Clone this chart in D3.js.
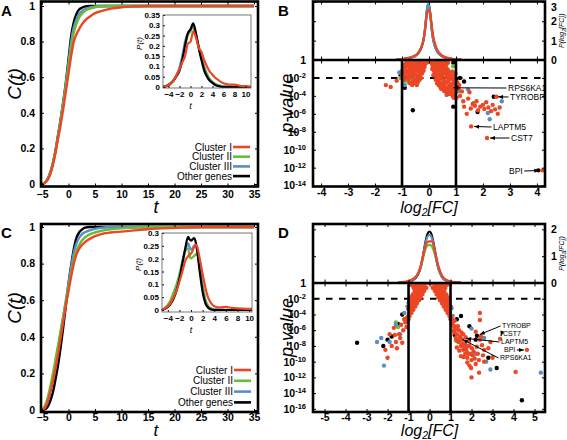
<!DOCTYPE html>
<html><head><meta charset="utf-8">
<script src="https://cdn.jsdelivr.net/npm/d3@7"></script>
<style>body{margin:0;background:#fff}svg{display:block}text{font-family:"Liberation Sans",Arial,Helvetica,sans-serif}</style>
</head><body><svg id="c" width="567" height="440"></svg>
<script>
// ---------------- DATA ----------------
const seriesNames = ["Cluster I","Cluster II","Cluster III","Other genes"];
const cdfT = [-5,-4.5,-4,-3.5,-3,-2.5,-2,-1.5,-1,-0.5,0,0.5,1,1.5,2,2.5,3,4,5,6,8,10,12,15,20,25,30,35];
// Panel A cumulative C(t)
const cdfA_c1 = [0,0.005,0.02,0.05,0.1,0.17,0.25,0.33,0.42,0.52,0.62,0.72,0.8,0.84,0.87,0.895,0.915,0.94,0.96,0.97,0.985,0.993,0.997,1,1,1,1,1];
const cdfA_c2 = [0,0.006,0.024,0.058,0.108,0.175,0.26,0.35,0.45,0.55,0.66,0.77,0.85,0.9,0.935,0.955,0.97,0.985,0.993,0.997,1,1,1,1,1,1,1,1];
const cdfA_c3 = [0,0.006,0.024,0.059,0.11,0.178,0.265,0.355,0.455,0.56,0.68,0.8,0.88,0.925,0.955,0.97,0.98,0.992,0.997,1,1,1,1,1,1,1,1,1];
const cdfA_oth = [0,0.006,0.025,0.06,0.11,0.18,0.27,0.36,0.46,0.57,0.7,0.83,0.91,0.955,0.98,0.99,0.996,1,1,1,1,1,1,1,1,1,1,1];
// Panel C cumulative C(t)
const cdfC_c1 = [0,0.01,0.04,0.09,0.15,0.22,0.3,0.39,0.48,0.57,0.65,0.73,0.8,0.85,0.88,0.9,0.915,0.935,0.95,0.96,0.97,0.975,0.98,0.988,0.995,1,1,1];
const cdfC_c2 = [0,0.02,0.06,0.12,0.19,0.27,0.35,0.43,0.51,0.59,0.67,0.75,0.82,0.87,0.9,0.925,0.94,0.96,0.97,0.978,0.988,0.993,0.996,1,1,1,1,1];
const cdfC_c3 = [0,0.01,0.04,0.09,0.16,0.24,0.33,0.42,0.51,0.6,0.69,0.78,0.86,0.91,0.94,0.96,0.97,0.982,0.99,0.995,1,1,1,1,1,1,1,1];
const cdfC_oth = [0,0.003,0.015,0.045,0.09,0.16,0.24,0.34,0.45,0.57,0.69,0.79,0.88,0.94,0.97,0.985,0.995,1,1,1,1,1,1,1,1,1,1,1];
// Inset A density P(t)
const pdfT_A = [-5,-4.5,-4,-3.5,-3,-2.5,-2,-1.5,-1,-0.5,0,0.5,1,1.5,2,2.5,3,3.5,4,4.5,5,5.5,6,7,8,9,10,11];
const pdfA_c1 = [0,0.004,0.01,0.02,0.035,0.06,0.085,0.12,0.15,0.21,0.22,0.27,0.24,0.19,0.17,0.13,0.1,0.075,0.06,0.045,0.035,0.025,0.018,0.012,0.012,0.006,0.004,0.002];
const pdfA_c2 = [0,0.004,0.01,0.02,0.035,0.06,0.09,0.14,0.2,0.25,0.27,0.29,0.25,0.2,0.15,0.1,0.065,0.04,0.025,0.015,0.01,0.006,0.004,0.002,0.001,0,0,0];
const pdfA_c3 = [0,0.004,0.01,0.02,0.035,0.06,0.095,0.15,0.22,0.26,0.28,0.3,0.25,0.19,0.14,0.09,0.055,0.035,0.02,0.012,0.007,0.004,0.002,0.001,0,0,0,0];
const pdfA_oth = [0,0.004,0.01,0.02,0.035,0.055,0.08,0.13,0.2,0.26,0.28,0.31,0.26,0.19,0.13,0.08,0.05,0.03,0.02,0.01,0.005,0.002,0,0,0,0,0,0];
// Inset C density P(t)
const pdfT_C = [-5,-4.5,-4,-3.5,-3,-2.5,-2,-1.5,-1,-0.5,-0.25,0,0.25,0.5,0.75,1,1.5,2,2.5,3,3.5,4,5,6,7,8,9,10,10.5];
const pdfC_c1 = [0,0.006,0.014,0.028,0.05,0.075,0.11,0.15,0.19,0.21,0.215,0.22,0.23,0.245,0.255,0.25,0.2,0.14,0.085,0.045,0.025,0.015,0.01,0.012,0.008,0.006,0.005,0.004,0.004];
const pdfC_c2 = [0,0.008,0.02,0.04,0.07,0.1,0.14,0.19,0.23,0.24,0.21,0.2,0.205,0.21,0.215,0.22,0.17,0.1,0.04,0.015,0.006,0.003,0.002,0.001,0,0,0,0,0];
const pdfC_c3 = [0,0.005,0.012,0.027,0.05,0.08,0.125,0.18,0.23,0.26,0.245,0.235,0.24,0.25,0.255,0.24,0.16,0.08,0.03,0.01,0.004,0.002,0.001,0,0,0,0,0,0];
const pdfC_oth = [0,0.005,0.012,0.025,0.045,0.075,0.12,0.18,0.24,0.285,0.275,0.27,0.275,0.28,0.27,0.24,0.15,0.07,0.025,0.008,0.002,0,0,0,0,0,0,0,0];
// Panel B: density of log2 FC
const densX_B = [-1.2,-1,-0.8,-0.6,-0.5,-0.4,-0.3,-0.2,-0.15,-0.1,-0.05,0,0.05,0.1,0.15,0.2,0.3,0.4,0.5,0.6,0.8,1,1.2];
const densB_oth = [0.02,0.04,0.08,0.15,0.22,0.34,0.58,1.05,1.55,2.25,2.8,2.85,2.35,1.65,1.12,0.8,0.45,0.28,0.18,0.12,0.06,0.03,0.01];
const densB_c2 = [0.02,0.04,0.08,0.15,0.22,0.35,0.6,1.08,1.55,2.2,2.7,2.7,2.25,1.6,1.1,0.8,0.46,0.29,0.19,0.13,0.06,0.03,0.01];
const densB_c3 = [0.02,0.04,0.08,0.15,0.22,0.35,0.6,1.1,1.6,2.3,2.88,2.8,2.3,1.6,1.1,0.8,0.45,0.28,0.18,0.12,0.06,0.03,0.01];
const densB_c1 = [0.03,0.05,0.1,0.18,0.25,0.38,0.62,1.05,1.5,2.1,2.5,2.6,2.35,1.8,1.3,0.95,0.55,0.34,0.22,0.15,0.08,0.04,0.02];
// Panel D: density of log2 FC
const densX_D = [-1.5,-1.2,-1,-0.8,-0.6,-0.5,-0.4,-0.3,-0.2,-0.1,0,0.1,0.2,0.3,0.4,0.5,0.6,0.8,1,1.2,1.5];
const densD_oth = [0.01,0.02,0.04,0.1,0.25,0.4,0.65,1.05,1.5,1.82,1.92,1.8,1.45,1.0,0.62,0.38,0.22,0.08,0.04,0.02,0.01];
const densD_c3 = [0.01,0.02,0.05,0.11,0.26,0.41,0.66,1.05,1.45,1.72,1.8,1.7,1.4,0.98,0.62,0.38,0.22,0.09,0.04,0.02,0.01];
const densD_c2 = [0.01,0.03,0.06,0.13,0.28,0.42,0.64,0.95,1.25,1.4,1.42,1.38,1.2,0.92,0.62,0.4,0.24,0.1,0.05,0.02,0.01];
const densD_c1 = [0.02,0.04,0.07,0.14,0.3,0.45,0.7,1.05,1.38,1.52,1.55,1.55,1.4,1.05,0.7,0.45,0.27,0.12,0.06,0.03,0.015];
// Panel B volcano points [log2FC, log10 p]
const volB_c1 = [[-0.85,-0.3],[-0.78,-0.12],[-0.72,-0.45],[-0.65,-0.2],[-0.6,-0.6],[-0.55,-0.1],[-0.5,-0.4],[-0.45,-0.15],[-0.4,-0.55],[-0.35,-0.25],[-0.3,-0.05],[-0.25,-0.4],[-0.2,-0.15],[-0.15,-0.5],[-0.1,-0.05],[-0.05,-0.25],[0,0],[0.05,-0.1],[0.1,-0.3],[0.15,-0.05],[0.2,-0.35],[0.25,-0.15],[0.3,-0.5],[0.35,-0.2],[0.4,-0.4],[0.45,-0.1],[0.5,-0.55],[0.55,-0.3],[0.6,-0.15],[0.65,-0.45],[-0.68,-0.8],
[-0.8,-0.55],[-0.7,-0.25],[-0.62,-0.85],[-0.52,-0.7],[-0.42,-0.85],[-0.32,-0.75],[-0.27,-0.25],[-0.12,-0.3],[0.02,-0.15],[0.12,-0.5],[0.22,-0.6],[0.32,-0.8],[0.42,-0.65],[0.48,-0.35],[0.58,-0.7],[0.62,-0.9],[0.7,-0.3],[-0.9,-0.55],[0.38,-0.05],[-0.58,-0.4],
[-0.88,-0.9],[-0.82,-1.3],[-0.78,-0.7],[-0.72,-1.6],[-0.7,-1.0],[-0.65,-1.9],[-0.62,-1.3],[-0.58,-0.85],[-0.55,-2.2],[-0.5,-1.6],[-0.47,-1.0],[-0.43,-2.0],[-0.4,-1.3],[-0.36,-0.8],[-0.33,-1.6],[-0.28,-1.0],[-0.24,-0.7],[-0.2,-1.2],[-0.17,-0.8],[-0.5,-2.6],[-0.8,-2.0],[-0.6,-2.4],[-0.42,-2.5],[-0.85,-1.6],[-0.3,-2.0],
[-0.95,-1.3],[-0.9,-1.7],[-0.75,-2.2],[-0.7,-2.6],[-0.66,-1.5],[-0.57,-1.7],[-0.53,-1.2],[-0.46,-2.3],[-0.38,-1.8],[-0.35,-2.2],[-0.3,-1.2],[-0.26,-1.5],[-0.22,-1.0],[-0.62,-2.8],[-0.45,-2.8],[-0.76,-1.2],[-0.92,-2.2],
[0.15,-0.75],[0.18,-1.1],[0.22,-1.5],[0.25,-0.8],[0.28,-1.9],[0.3,-1.2],[0.33,-2.3],[0.36,-0.9],[0.38,-1.6],[0.42,-2.1],[0.44,-1.2],[0.47,-2.6],[0.5,-1.7],[0.52,-0.9],[0.55,-2.2],[0.57,-3.0],[0.6,-1.4],[0.62,-2.6],[0.65,-1.9],[0.67,-3.3],[0.7,-1.1],[0.72,-2.3],[0.74,-2.9],[0.77,-1.6],[0.8,-3.5],[0.82,-2.1],[0.84,-2.7],[0.87,-1.3],[0.9,-3.1],[0.92,-2.4],[0.95,-1.8],[0.96,-3.7],[0.45,-3.2],[0.6,-3.5],[0.35,-2.8],[0.75,-3.8],[0.88,-4.0],[0.98,-2.9],[0.25,-2.2],[0.55,-1.1],
[0.12,-1.0],[0.2,-1.3],[0.16,-1.7],[0.27,-1.1],[0.3,-2.6],[0.34,-1.7],[0.4,-1.3],[0.4,-2.5],[0.46,-1.9],[0.5,-2.9],[0.52,-1.4],[0.58,-2.5],[0.63,-3.1],[0.66,-1.6],[0.68,-2.4],[0.72,-3.5],[0.73,-1.4],[0.78,-2.0],[0.8,-2.7],[0.83,-3.1],[0.86,-1.8],[0.9,-2.6],[0.93,-3.3],[0.95,-2.2],[0.98,-1.5],[0.98,-3.5],[0.55,-3.4],[0.68,-3.8],[0.82,-3.7],[0.92,-4.2],[0.62,-1.2],[0.42,-3.0],
[1.05,-2.5],[1.1,-3.2],[1.15,-4.0],[1.22,-3.5],[1.27,-4.6],[1.3,-5.2],[1.4,-6.0],[1.45,-4.3],[1.5,-3.6],[1.55,-5.4],[1.62,-4.9],[1.7,-5.1],[1.76,-4.6],[1.82,-5.6],[1.9,-5.2],[2.0,-5.0],[2.05,-5.45],[2.12,-4.7],[2.2,-5.3],[2.3,-5.7],[2.36,-5.0],[2.45,-5.5],[2.55,-6.0],[2.62,-5.3],[2.5,-4.1],[1.56,-7.4],[2.15,-8.7],[4.2,-12.3],[1.02,-4.2],[1.12,-2.8],[-1.6,-2.8],[-1.42,-3.0],[-1.2,-2.3],[-1.0,-1.6]];
const volB_c2 = [[-1.0,-1.2],[-1.05,-2.0],[-0.95,-2.7],[-0.75,-2.5],[-0.6,-2.0],[0.65,-0.9],[0.85,-1.3],[1.65,-4.8],[0.45,-1.4],[-0.8,-0.5],[0.9,-0.7],[-0.85,-2.3]];
const volB_c3 = [[-1.1,-1.4],[-0.95,-1.0],[-0.9,-2.8],[-0.6,-0.9],[-0.3,-0.5],[0.3,-1.7],[0.55,-2.5],[0.8,-3.3],[1.1,-3.5],[1.45,-3.3],[2.18,-5.9],[2.25,-6.6],[2.7,-4.6],[0.05,-0.15],[-0.45,-2.0],[0.65,-3.9],[-0.2,-0.05],[-0.75,-1.8],[0.4,-0.6]];
const volB_oth = [[-0.6,-5.6],[-1.05,-1.7],[-0.9,-3.1],[0.75,-3.1],[1.0,-2.2],[1.15,-2.0],[1.3,-2.4],[0.9,-5.2],[2.4,-4.1],[1.8,-5.8],[0.95,-3.7],[-0.2,-0.2],[0.1,-0.1],[0.9,-0.3],[-0.8,-0.3],[4.05,-12.3],[0.5,-1.0],[0.8,-3.1]];
// Panel D volcano points [log2FC, log10 p]
const volD_c1 = [[-0.85,-0.3],[-0.75,-0.15],[-0.65,-0.3],[-0.55,-0.1],[-0.45,-0.25],[-0.35,-0.05],[-0.25,-0.15],[-0.15,0],[-0.05,0],[0.05,0],[0.15,-0.05],[0.25,-0.1],[0.35,-0.2],[0.45,-0.1],[0.55,-0.3],[0.65,-0.2],[0.75,-0.35],[0.85,-0.2],
[-0.15,-0.6],[-0.25,-0.55],[-0.35,-0.65],[-0.45,-0.6],[-0.6,-0.55],[-0.75,-0.65],[0.15,-0.6],[0.25,-0.55],[0.35,-0.65],[0.45,-0.6],[0.6,-0.55],[0.75,-0.65],
[-0.25,-1.0],[-0.35,-1.05],[-0.45,-0.95],[-0.55,-1.0],[-0.7,-1.05],[0.25,-1.0],[0.35,-1.05],[0.45,-0.95],[0.55,-1.0],[0.7,-1.05],
[-0.33,-1.4],[-0.43,-1.45],[-0.53,-1.35],[-0.63,-1.4],[-0.8,-1.45],[0.33,-1.4],[0.43,-1.45],[0.53,-1.35],[0.63,-1.4],[0.8,-1.45],
[-0.42,-1.8],[-0.52,-1.85],[-0.62,-1.75],[-0.72,-1.8],[-0.9,-1.85],[0.42,-1.8],[0.52,-1.85],[0.62,-1.75],[0.72,-1.8],[0.9,-1.85],
[-0.5,-2.2],[-0.6,-2.25],[-0.7,-2.15],[-0.8,-2.2],[-0.95,-2.25],[0.5,-2.2],[0.6,-2.25],[0.7,-2.15],[0.8,-2.2],[0.95,-2.25],
[-0.6,-2.6],[-0.7,-2.65],[-0.8,-2.55],[-0.9,-2.6],[0.6,-2.6],[0.7,-2.65],[0.8,-2.55],[0.9,-2.6],
[-0.68,-3.0],[-0.78,-3.05],[-0.88,-2.95],[-0.98,-3.0],[0.68,-3.0],[0.78,-3.05],[0.88,-2.95],[0.98,-3.0],
[-0.77,-3.4],[-0.87,-3.45],[-0.97,-3.35],[0.77,-3.4],[0.87,-3.45],[0.97,-3.35],
[-0.86,-3.8],[-0.96,-3.85],[0.86,-3.8],[0.96,-3.85],[-0.95,-4.2],[-1.03,-4.25],[0.95,-4.2],[1.03,-4.25],[-1.0,-4.6],[-1.08,-4.65],[1.0,-4.6],[1.08,-4.65],
[-1.15,-5.0],[-1.25,-6.0],[-1.45,-6.5],[-1.6,-7.5],[-1.8,-8.0],[-2.0,-9.5],[-2.1,-8.5],[-1.4,-7.0],[-1.1,-5.6],[-1.7,-5.7],[-1.3,-7.6],[-1.55,-8.3],[-1.2,-4.6],[-1.9,-6.5],[-1.35,-5.3],[-1.65,-6.6],
[1.1,-5.0],[1.2,-5.6],[1.3,-6.5],[1.4,-7.5],[1.5,-8.0],[1.6,-8.5],[1.7,-9.0],[1.8,-9.5],[1.9,-8.0],[2.0,-9.8],[2.1,-8.7],[2.2,-10.3],[2.3,-9.0],[2.4,-7.2],[2.5,-7.9],[2.6,-8.5],[1.3,-8.2],[1.5,-9.3],[1.7,-7.8],[2.4,-3.8],[2.4,-4.7],[2.36,-11.4],[1.8,-10.1],[2.0,-12.0],[2.6,-10.0],[3.0,-9.5],[3.36,-7.1],[4.64,-8.5],[4.1,-11.3],[2.9,-7.5],[1.2,-4.8],[1.6,-6.5],[1.9,-10.5],[1.15,-6.0],[2.2,-6.2],[1.4,-6.0],[2.8,-8.3],[1.25,-7.0],[1.35,-5.5],[1.45,-6.8],[1.55,-7.2],[1.65,-7.9],[1.75,-8.4],[1.85,-9.0],[2.05,-9.2],[2.45,-6.8],
[1.12,-5.4],[1.18,-6.3],[1.28,-5.9],[1.33,-7.4],[1.42,-8.6],[1.48,-7.0],[1.52,-6.3],[1.58,-7.7],[1.62,-9.4],[1.68,-8.2],[1.72,-6.9],[1.78,-8.8],[1.88,-7.4],[1.95,-9.0],[2.02,-8.3],[2.15,-9.6],[2.25,-8.1],[2.35,-9.8],[2.55,-9.2],[1.98,-10.8]];
const volD_c2 = [[-1.5,-5.6],[-1.6,-5.0],[-1.2,-4.6],[1.25,-7.3],[1.35,-7.2],[-0.3,-0.3]];
const volD_c3 = [[-2.17,-10.5],[-2.3,-7.0],[-1.9,-7.5],[-1.6,-5.3],[-1.4,-6.5],[-2.5,-7.5],[-1.2,-3.8],[-1.1,-5.0],[5.3,-11.4],[2.9,-11.0],[3.0,-9.4],[2.0,-5.8],[1.8,-8.0],[2.2,-9.0],[1.2,-5.5],[2.6,-7.0],[2.7,-10.0],[-1.05,-3.0],[-0.95,-3.5],[-1.0,-2.5],[-0.9,-1.8],[1.05,-3.2],[0.95,-2.6],[1.1,-4.2],[-0.6,-0.5]];
const volD_oth = [[-3.45,-7.6],[-2.2,-8.0],[-1.5,-5.2],[-2.0,-7.2],[-1.3,-4.0],[-1.8,-6.8],[4.4,-14.9],[3.2,-10.8],[2.8,-9.5],[1.9,-5.5],[1.45,-7.0],[1.5,-4.2],[2.2,-7.2],[2.26,-6.7],[1.2,-6.6],[1.3,-4.6],[-1.0,-3.3],[-0.85,-2.2],[-1.1,-4.5],[0.9,-2.0],[1.0,-3.0],[-0.4,-0.3],[0.3,-0.2],[1.05,-4.6]];
// Labelled genes: [gene, log2FC, log10p]
const genesB = [["RPS6KA1",0.8,-3.1],["TYROBP",2.45,-4.1],["LAPTM5",1.56,-7.4],["CST7",2.15,-8.7],["BPI",4.2,-12.3]];
const genesD = [["TYROBP",2.26,-6.7],["CST7",3.36,-7.1],["LAPTM5",1.6,-7.0],["BPI",4.64,-8.5],["RPS6KA1",1.45,-7.0]];
// tick values
const cdfXTicks = [-5,0,5,10,15,20,25,30,35];
const cdfYTicks = [0,0.2,0.4,0.6,0.8,1];
const insetAXTicks = [-4,-2,0,2,4,6,8,10];
const insetAYTicks = [0,0.05,0.1,0.15,0.2,0.25,0.3,0.35];
const insetCYTicks = [0,0.05,0.1,0.15,0.2,0.25,0.3];
const volBXTicks = [-4,-3,-2,-1,0,1,2,3,4];
const volDXTicks = [-5,-4,-3,-2,-1,0,1,2,3,4,5];
const volBPTicks = [0,-2,-4,-6,-8,-10,-12,-14];
const volDPTicks = [0,-2,-4,-6,-8,-10,-12,-14,-16];
const volBDTicks = [0,1,2,3];
const volDDTicks = [0,1,2];

// ---------------- DRAWING ----------------
const COL = {c1:"#ec4624", c2:"#67bd3a", c3:"#5a8ec7", oth:"#000000"};
const svg = d3.select("#c");
const FONT = '"Liberation Sans", Arial, Helvetica, sans-serif';
const numFmt = d => String(+(+d).toFixed(2));

function styleAxis(g, size, bold){
  g.select(".domain").remove();
  g.selectAll("text").attr("font-family",FONT).attr("font-size",size).attr("font-weight",bold?"bold":"normal").attr("fill","#000");
  g.selectAll("line").attr("stroke","#000");
}
function rect(x0,y0,x1,y1,w){
  svg.append("rect").attr("x",x0).attr("y",y0).attr("width",x1-x0).attr("height",y1-y0)
    .attr("fill","none").attr("stroke","#000").attr("stroke-width",w);
}
function text(x,y,s,o={}){
  const t = svg.append("text").attr("x",x).attr("y",y).text(s)
    .attr("font-size",o.size||10).attr("font-weight",o.bold?"bold":"normal")
    .attr("font-style",o.italic?"italic":"normal").attr("text-anchor",o.anchor||"start");
  if(o.rot!==undefined) t.attr("transform",`rotate(${o.rot},${x},${y})`);
  return t;
}

function cdfPanel(o){
  const x = d3.scaleLinear().domain([-5,35]).range([o.fx0+1,o.fx1-4]);
  const y = d3.scaleLinear().domain([0,1]).range([o.yb,o.yt]);
  const line = d3.line().x(d=>x(d[0])).y(d=>y(d[1])).curve(d3.curveMonotoneX);
  const sets = [[o.oth,COL.oth],[o.c3,COL.c3],[o.c2,COL.c2],[o.c1,COL.c1]];
  sets.forEach(([v,c])=>{
    svg.append("path").datum(cdfT.map((t,i)=>[t,v[i]])).attr("d",line)
      .attr("fill","none").attr("stroke",c).attr("stroke-width",2.4).attr("stroke-linejoin","round");
  });
  svg.append("g").attr("transform",`translate(0,${o.fy1})`)
    .call(d3.axisBottom(x).tickValues(cdfXTicks).tickSize(-3).tickPadding(o.xPad)).call(g=>styleAxis(g,10.5,true));
  svg.append("g").attr("transform",`translate(0,${o.fy0})`)
    .call(d3.axisTop(x).tickValues(cdfXTicks).tickSize(-3).tickFormat("")).call(g=>styleAxis(g,10,true));
  svg.append("g").attr("transform",`translate(${o.fx0},0)`)
    .call(d3.axisLeft(y).tickValues(cdfYTicks).tickSize(-3).tickPadding(6).tickFormat(numFmt)).call(g=>styleAxis(g,10.5,true));
  svg.append("g").attr("transform",`translate(${o.fx1},0)`)
    .call(d3.axisRight(y).tickValues(cdfYTicks).tickSize(-3).tickFormat("")).call(g=>styleAxis(g,10,true));
  rect(o.fx0,o.fy0,o.fx1,o.fy1,2.6);
  const ix = d3.scaleLinear().domain(o.iDom).range([o.ix0,o.ix1]);
  const iy = d3.scaleLinear().domain([0,o.iMax]).range([o.iyb,o.iyt]);
  const il = d3.line().x(d=>ix(d[0])).y(d=>iy(d[1])).curve(d3.curveMonotoneX);
  const isets = [[o.ic2,COL.c2],[o.ic3,COL.c3],[o.ioth,COL.oth],[o.ic1,COL.c1]];
  isets.forEach(([v,c])=>{
    svg.append("path").datum(o.iT.map((t,i)=>[t,v[i]])).attr("d",il)
      .attr("fill","none").attr("stroke",c).attr("stroke-width",2.2).attr("stroke-linejoin","round");
  });
  svg.append("g").attr("transform",`translate(0,${o.iy1})`)
    .call(d3.axisBottom(ix).tickValues(insetAXTicks).tickSize(-2).tickPadding(3)).call(g=>styleAxis(g,8,true));
  svg.append("g").attr("transform",`translate(${o.ix0},0)`)
    .call(d3.axisLeft(iy).tickValues(o.iTicks).tickSize(-2).tickPadding(3).tickFormat(numFmt)).call(g=>styleAxis(g,8,true));
  svg.append("rect").attr("x",o.ix0).attr("y",o.iy0).attr("width",o.ix1-o.ix0).attr("height",o.iy1-o.iy0)
    .attr("fill","none").attr("stroke","#555").attr("stroke-width",0.8);
  text(o.ix0-21,(o.iy0+o.iy1)/2-8,"P(t)",{size:8,italic:true,anchor:"middle",rot:-90});
  text((ix(0)),o.iy1+21,"t",{size:9,italic:true,anchor:"middle"});
  const cols=[COL.c1,COL.c2,COL.c3,COL.oth];
  seriesNames.forEach((n,i)=>{
    const yy=o.legY+i*o.legDy;
    text(o.legX-1,yy+3.5,n,{size:10,anchor:"end"});
    svg.append("line").attr("x1",o.legX).attr("x2",o.legX+17).attr("y1",yy).attr("y2",yy)
      .attr("stroke",cols[i]).attr("stroke-width",2.6);
  });
  text(o.fx0-20,(o.fy0+o.fy1)/2-10,"C(t)",{size:19,italic:true,anchor:"middle",rot:-90});
  // axis title sits just right of the "15" tick label so the two do not collide
  text(x(16.5),o.tY,"t",{size:o.tSize,italic:true,anchor:"middle"});
  text(1,o.fy0+14,o.letter,{size:15,bold:true});
}

function volcano(o){
  const x = d3.scaleLinear().domain(o.xDom).range([o.fx0,o.fx1]);
  const yp = d3.scaleLinear().domain([0,o.pMin]).range([o.ys,o.fy1]);
  const yd = d3.scaleLinear().domain([0,o.dMax]).range([o.ys,o.fy0]);
  const id = "clip"+o.letter;
  svg.append("clipPath").attr("id",id).append("rect").attr("x",o.fx0).attr("y",o.ys).attr("width",o.fx1-o.fx0).attr("height",o.fy1-o.ys);
  const idU = "clipU"+o.letter;
  svg.append("clipPath").attr("id",idU).append("rect").attr("x",o.fx0).attr("y",o.fy0).attr("width",o.fx1-o.fx0).attr("height",o.ys-o.fy0);
  svg.append("line").attr("x1",o.fx0).attr("x2",o.fx1).attr("y1",yp(-2)).attr("y2",yp(-2))
    .attr("stroke","#000").attr("stroke-width",2).attr("stroke-dasharray","6.5,6.5");
  const pg = svg.append("g").attr("clip-path",`url(#${id})`);
  [[o.oth,COL.oth],[o.c2,COL.c2],[o.c3,COL.c3],[o.c1,COL.c1]].forEach(([arr,c])=>{
    pg.append("g").selectAll("circle").data(arr).join("circle")
      .attr("cx",d=>x(d[0])).attr("cy",d=>yp(d[1])).attr("r",2.2).attr("fill",c);
  });
  const dg = svg.append("g").attr("clip-path",`url(#${idU})`);
  const dl = d3.line().x(d=>x(d[0])).y(d=>yd(d[1])).curve(d3.curveMonotoneX);
  [[o.doth,COL.oth],[o.dc2,COL.c2],[o.dc3,COL.c3],[o.dc1,COL.c1]].forEach(([v,c])=>{
    dg.append("path").datum(o.dx.map((t,i)=>[t,v[i]])).attr("d",dl)
      .attr("fill","none").attr("stroke",c).attr("stroke-width",2.2);
  });
  [-1,1].forEach(v=>svg.append("line").attr("x1",x(v)).attr("x2",x(v)).attr("y1",o.ys).attr("y2",o.fy1)
    .attr("stroke","#000").attr("stroke-width",2.6));
  const ag = svg.append("g");
  o.genes.forEach((gn,i)=>{
    const px=x(gn[1]), py=yp(gn[2]);
    const [tx,ty]=o.ann[i];
    const t = ag.append("text").attr("x",tx).attr("y",ty+o.annSize*0.35).text(gn[0]).attr("font-size",o.annSize).attr("font-family",FONT);
    const w = t.node().getComputedTextLength();
    const sx = tx>px ? tx-1.5 : tx+w+1.5;
    const dx=px-sx, dy=py-ty, L=Math.hypot(dx,dy);
    const ex=px-dx/L*3, ey=py-dy/L*3;
    ag.append("line").attr("x1",sx).attr("y1",ty).attr("x2",ex).attr("y2",ey).attr("stroke","#000").attr("stroke-width",1);
    const a=Math.atan2(dy,dx), h=5, hw=2;
    const p1=[ex,ey], p2=[ex-h*Math.cos(a)+hw*Math.sin(a), ey-h*Math.sin(a)-hw*Math.cos(a)], p3=[ex-h*Math.cos(a)-hw*Math.sin(a), ey-h*Math.sin(a)+hw*Math.cos(a)];
    ag.append("path").attr("d",`M${p1}L${p2}L${p3}Z`).attr("fill","#000");
  });
  svg.append("line").attr("x1",o.fx0).attr("x2",o.fx1).attr("y1",o.ys).attr("y2",o.ys).attr("stroke","#000").attr("stroke-width",2.6);
  svg.append("g").attr("transform",`translate(0,${o.fy1})`)
    .call(d3.axisBottom(x).tickValues(o.xTicks).tickSize(-3).tickPadding(o.xPad).tickFormat(d=>String(d))).call(g=>styleAxis(g,10.5,true));
  svg.append("g").attr("transform",`translate(0,${o.fy0})`)
    .call(d3.axisTop(x).tickValues(o.xTicks).tickSize(-3).tickFormat("")).call(g=>styleAxis(g,10,true));
  svg.append("g").attr("transform",`translate(0,${o.ys})`)
    .call(d3.axisTop(x).tickValues(o.xTicks).tickSize(3.5).tickFormat("")).call(g=>styleAxis(g,10,true));
  svg.append("g").attr("transform",`translate(0,${o.ys})`)
    .call(d3.axisBottom(x).tickValues(o.xTicks).tickSize(3.5).tickFormat("")).call(g=>styleAxis(g,10,true));
  const la = svg.append("g").attr("transform",`translate(${o.fx0},0)`)
    .call(d3.axisLeft(yp).tickValues(o.pTicks).tickSize(-3).tickPadding(7)).call(g=>styleAxis(g,10.5,true));
  la.selectAll(".tick text").each(function(d){
    const t=d3.select(this); t.text(null);
    if(d===0){ t.text("1"); }
    else { t.append("tspan").text("10"); t.append("tspan").attr("dy","-0.5em").attr("font-size",7.5).text(String(d)); }
  });
  svg.append("g").attr("transform",`translate(${o.fx1},0)`)
    .call(d3.axisRight(yp).tickValues(o.pTicks.slice(1)).tickSize(-3).tickFormat("")).call(g=>styleAxis(g,10,true));
  const ra = svg.append("g").attr("transform",`translate(${o.fx1},0)`)
    .call(d3.axisRight(yd).tickValues(o.dTicks).tickSize(-3).tickPadding(6).tickFormat(d3.format("d"))).call(g=>styleAxis(g,10.5,true));
  ra.selectAll(".tick text").filter(d=>yd(d)<6).attr("dy","0.85em");
  svg.append("g").attr("transform",`translate(${o.fx0},0)`)
    .call(d3.axisLeft(yd).tickValues(o.dTicks.slice(1)).tickSize(-3).tickFormat("")).call(g=>styleAxis(g,10,true));
  rect(o.fx0,o.fy0,o.fx1,o.fy1,2.6);
  text(o.fx0-20,(o.ys+o.fy1)/2-20,"p-value",{size:18,italic:true,anchor:"middle",rot:-90});
  const xl = svg.append("text").attr("x",x(0)).attr("y",o.xlY).attr("text-anchor","middle")
    .attr("font-size",o.xlSize).attr("font-style","italic").attr("font-family",FONT);
  xl.append("tspan").text("log");
  xl.append("tspan").attr("dy",2.5).attr("font-size",o.xlSize*0.65).text("2");
  xl.append("tspan").attr("dy",-2.5).text("[FC]");
  const rl = svg.append("text").attr("transform",`translate(${o.fx1+19},${(o.fy0+o.ys)/2}) rotate(-90)`)
    .attr("text-anchor","middle").attr("font-size",7).attr("font-style","italic").attr("font-family",FONT);
  rl.append("tspan").text("P(log");
  rl.append("tspan").attr("dy",2).attr("font-size",5).text("2");
  rl.append("tspan").attr("dy",-2).text("[FC])");
  text(o.fx0-35,o.fy0+14,o.letter,{size:15,bold:true});
}

cdfPanel({letter:"A",fx0:41,fy0:1.5,fx1:258,fy1:186.5,yb:184,yt:6,tY:213,tSize:18,xPad:4,
  c1:cdfA_c1,c2:cdfA_c2,c3:cdfA_c3,oth:cdfA_oth,
  iDom:[-5,11],ix0:163,ix1:251,iy0:15,iy1:88,iyb:87,iyt:15,iMax:0.35,iTicks:insetAYTicks,
  iT:pdfT_A,ic1:pdfA_c1,ic2:pdfA_c2,ic3:pdfA_c3,ioth:pdfA_oth,legX:233,legY:147,legDy:9.7});
cdfPanel({letter:"C",fx0:41,fy0:224,fx1:258,fy1:412,yb:410,yt:227,tY:436,tSize:17,xPad:2,
  c1:cdfC_c1,c2:cdfC_c2,c3:cdfC_c3,oth:cdfC_oth,
  iDom:[-5,10.5],ix0:162,ix1:252,iy0:233,iy1:312,iyb:310,iyt:233,iMax:0.3,iTicks:insetCYTicks,
  iT:pdfT_C,ic1:pdfC_c1,ic2:pdfC_c2,ic3:pdfC_c3,ioth:pdfC_oth,legX:234,legY:370,legDy:10.8});

volcano({letter:"B",fx0:313,fx1:545,fy0:1.5,fy1:186.5,ys:60,xDom:[-4.3,4.3],pMin:-14.1,dMax:3.02,xlY:213,xlSize:16,xPad:2,annSize:8.5,
  xTicks:volBXTicks,pTicks:volBPTicks,dTicks:volBDTicks,
  c1:volB_c1,c2:volB_c2,c3:volB_c3,oth:volB_oth,
  dx:densX_B,dc1:densB_c1,dc2:densB_c2,dc3:densB_c3,doth:densB_oth,
  genes:genesB, ann:[[508,88],[510,97],[493,127],[511,138],[509,171]]});
volcano({letter:"D",fx0:313,fx1:545,fy0:224,fy1:412,ys:283,xDom:[-5.55,5.5],pMin:-16.4,dMax:2.2,xlY:436,xlSize:16,xPad:2,annSize:7,
  xTicks:volDXTicks,pTicks:volDPTicks,dTicks:volDDTicks,
  c1:volD_c1,c2:volD_c2,c3:volD_c3,oth:volD_oth,
  dx:densX_D,dc1:densD_c1,dc2:densD_c2,dc3:densD_c3,doth:densD_oth,
  genes:genesD, ann:[[502,326],[503,334],[501,342],[504,350],[500,358]]});
</script></body></html>
